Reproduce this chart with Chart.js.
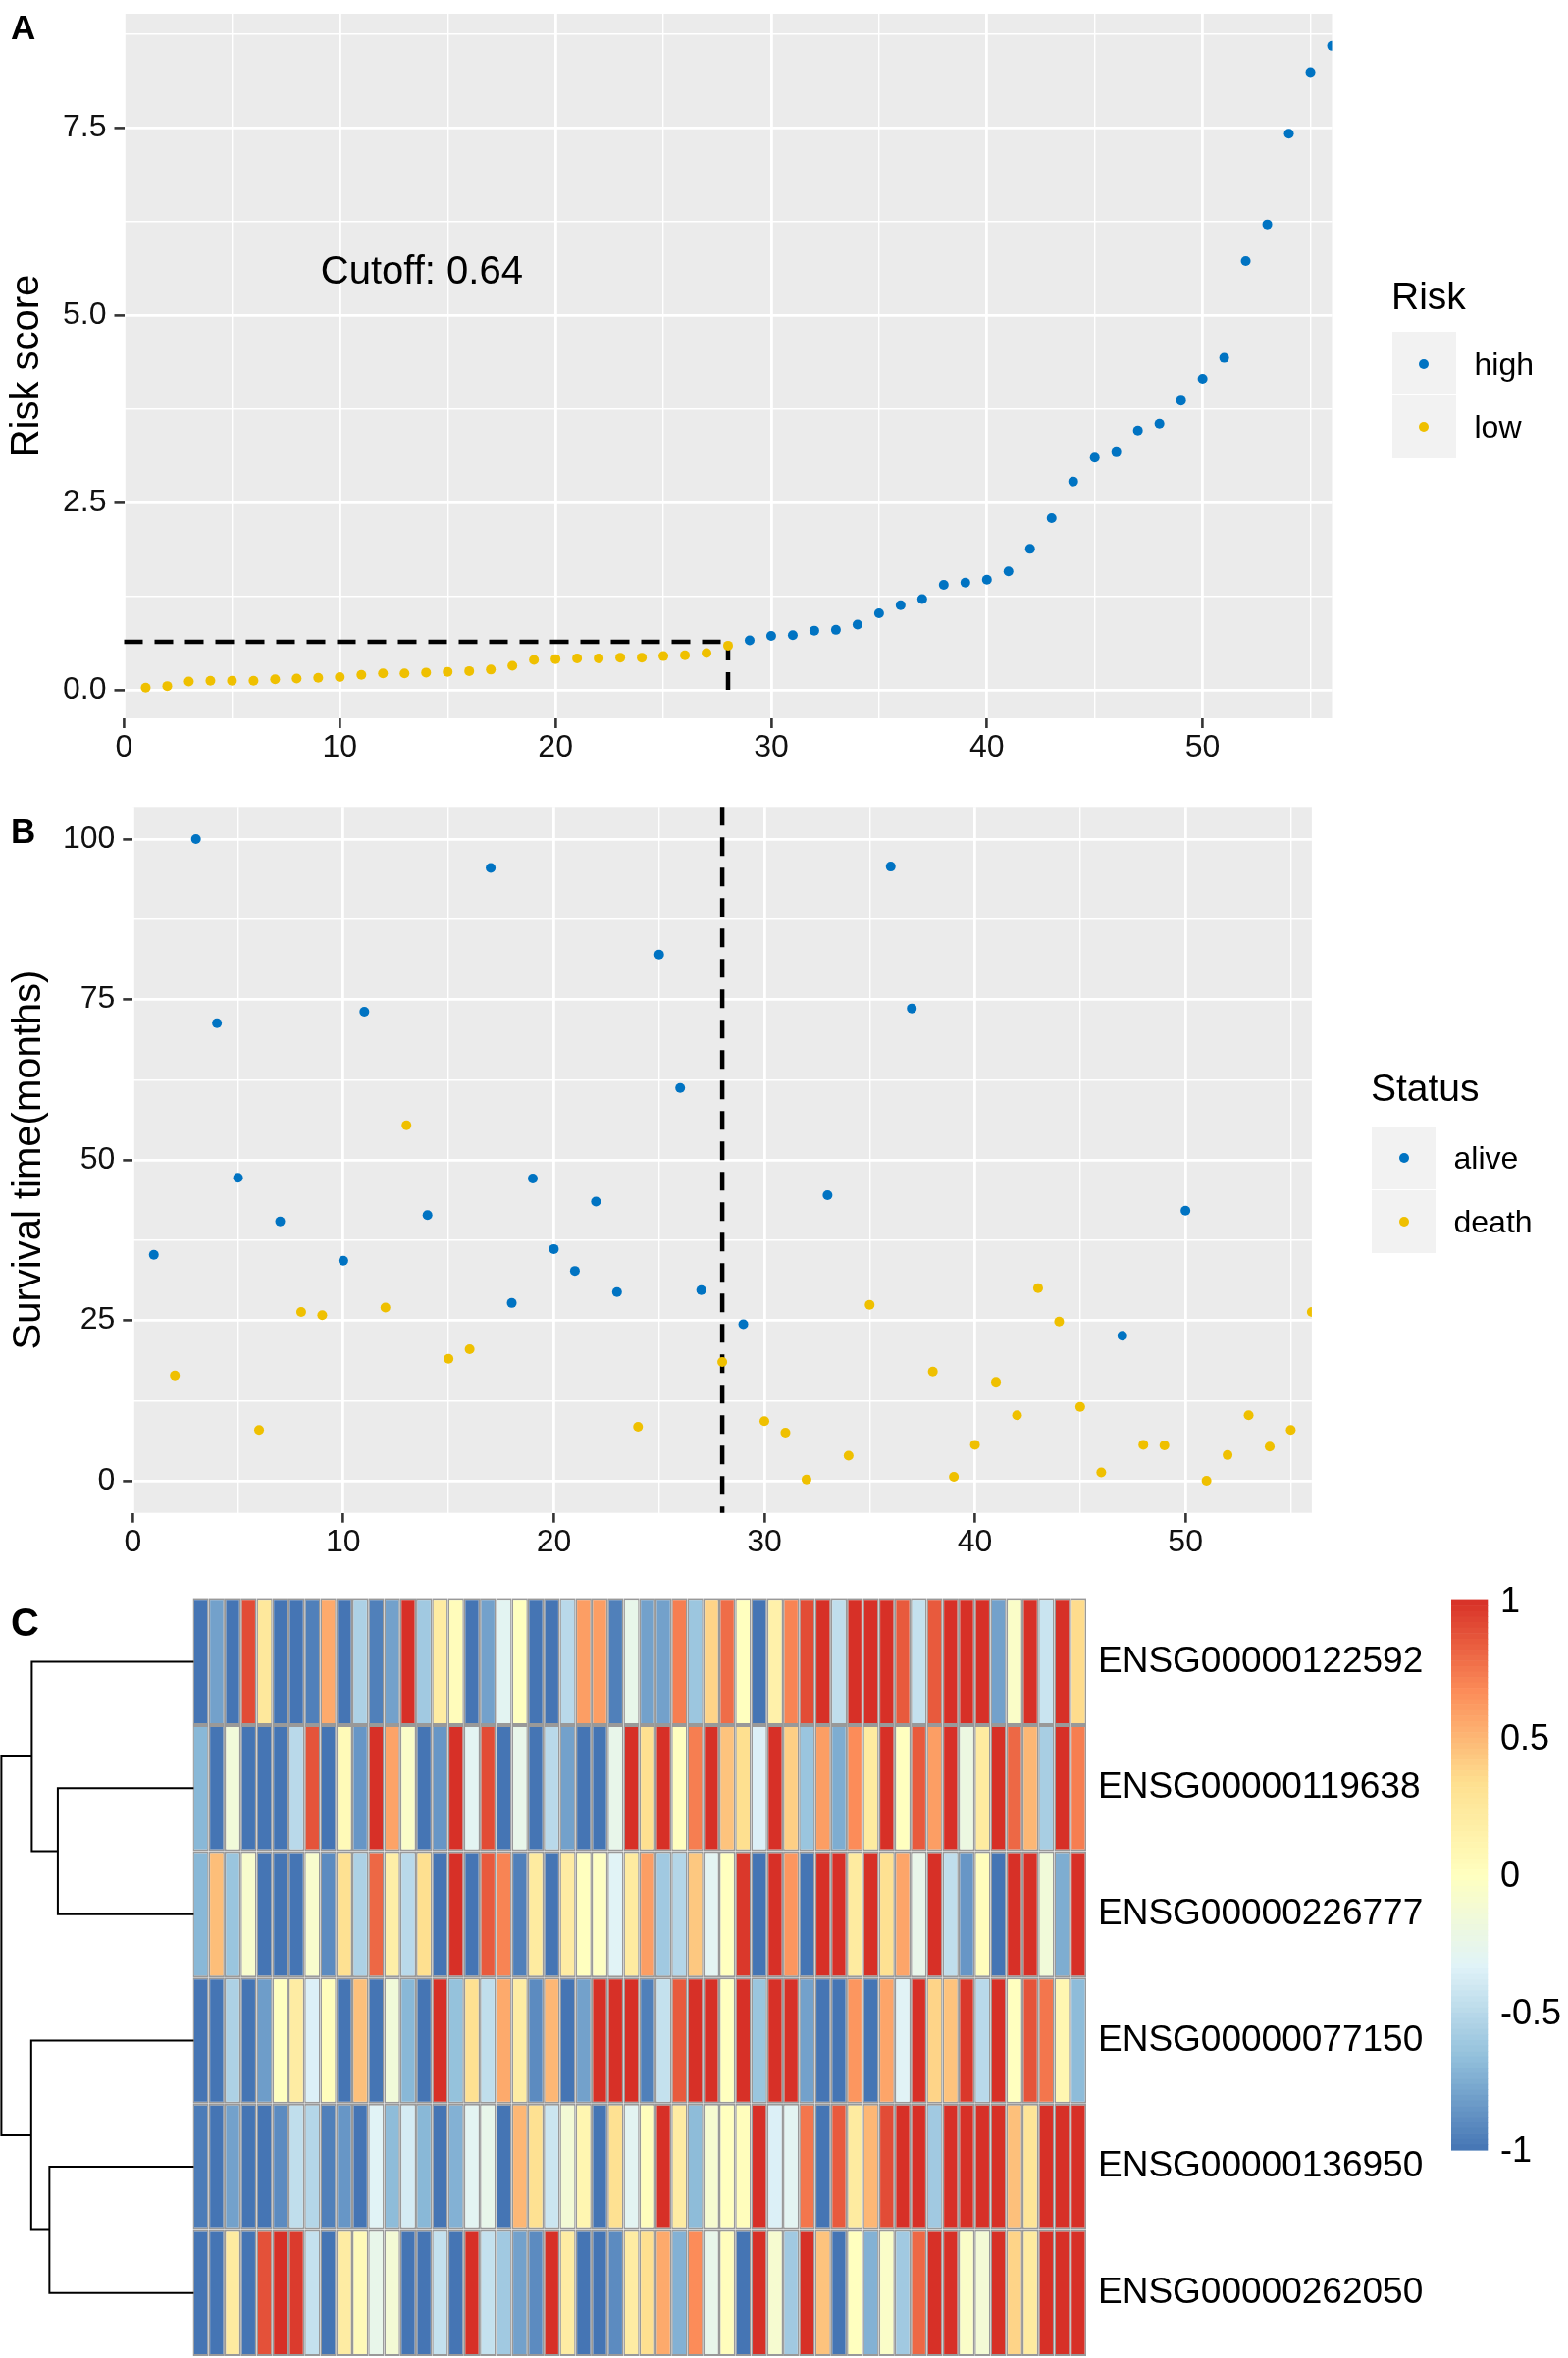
<!DOCTYPE html>
<html>
<head>
<meta charset="utf-8">
<title>Risk score, survival status and expression heatmap</title>
<script src="https://cdn.jsdelivr.net/npm/chart.js@4.4.1/dist/chart.umd.min.js"></script>
<style>
  html, body { margin: 0; padding: 0; background: #fff; }
  body { position: relative; width: 1598px; height: 2403px; overflow: hidden;
         font-family: "Liberation Sans", Arial, Helvetica, sans-serif; color: #000; }
  canvas { position: absolute; left: 0; }
  .txt { position: absolute; white-space: nowrap; }
  .keybox { position: absolute; background: #f2f2f2; }
  .dot { position: absolute; border-radius: 50%; width: 10px; height: 10px; }
</style>
</head>
<body>
<canvas id="riskChart" width="1598" height="790" style="top:0;width:1598px;height:790px"></canvas>
<canvas id="survChart" width="1598" height="790" style="top:800px;width:1598px;height:790px"></canvas>
<canvas id="heatChart" width="1598" height="803" style="top:1600px;width:1598px;height:803px"></canvas>

<div class="keybox" style="left:1419px;top:338px;width:65px;height:64px"></div>
<div class="keybox" style="left:1419px;top:403px;width:65px;height:64px"></div>
<div class="dot" style="left:1446px;top:366px;background:#0073C2"></div>
<div class="dot" style="left:1446px;top:430px;background:#EFC000"></div>

<div class="keybox" style="left:1398px;top:1148px;width:65px;height:64px"></div>
<div class="keybox" style="left:1398px;top:1213px;width:65px;height:64px"></div>
<div class="dot" style="left:1426px;top:1175px;background:#0073C2"></div>
<div class="dot" style="left:1426px;top:1240px;background:#EFC000"></div>

<script>
Chart.defaults.font.family = '"Liberation Sans", Arial, Helvetica, sans-serif';
Chart.defaults.color = '#111111';

// ---- data ----
const patientRank = [1, 2, 3, 4, 5, 6, 7, 8, 9, 10, 11, 12, 13, 14, 15, 16, 17, 18, 19, 20,
  21, 22, 23, 24, 25, 26, 27, 28, 29, 30, 31, 32, 33, 34, 35, 36, 37, 38, 39, 40,
  41, 42, 43, 44, 45, 46, 47, 48, 49, 50, 51, 52, 53, 54, 55, 56];

const riskScore = [0.03, 0.05, 0.11, 0.12, 0.12, 0.12, 0.14, 0.15, 0.16, 0.17,
  0.20, 0.22, 0.22, 0.23, 0.24, 0.25, 0.27, 0.32, 0.40, 0.41,
  0.42, 0.42, 0.43, 0.43, 0.45, 0.46, 0.49, 0.59, 0.66, 0.72,
  0.73, 0.79, 0.80, 0.87, 1.02, 1.13, 1.21, 1.40, 1.43, 1.47,
  1.58, 1.88, 2.29, 2.78, 3.10, 3.17, 3.46, 3.55, 3.86, 4.15,
  4.43, 5.72, 6.21, 7.42, 8.24, 8.59];
const riskCutoff = 0.64;

const survTime = [35.2, 16.4, 100, 71.3, 47.2, 7.9, 40.4, 26.3, 25.8, 34.3,
  73.1, 27.0, 55.4, 41.4, 19.0, 20.5, 95.5, 27.7, 47.1, 36.1,
  32.7, 43.5, 29.4, 8.4, 82.0, 61.2, 29.7, 18.5, 24.4, 9.3,
  7.5, 0.2, 44.5, 3.9, 27.4, 95.7, 73.6, 17.0, 0.6, 5.6,
  15.4, 10.2, 30.0, 24.8, 11.5, 1.3, 22.6, 5.6, 5.5, 42.1,
  0, 4.0, 10.2, 5.3, 7.9, 26.3];
const survStatus = ['alive', 'death', 'alive', 'alive', 'alive', 'death', 'alive', 'death', 'death', 'alive',
  'alive', 'death', 'death', 'alive', 'death', 'death', 'alive', 'alive', 'alive', 'alive',
  'alive', 'alive', 'alive', 'death', 'alive', 'alive', 'alive', 'death', 'alive', 'death',
  'death', 'death', 'alive', 'death', 'death', 'alive', 'alive', 'death', 'death', 'death',
  'death', 'death', 'death', 'death', 'death', 'death', 'alive', 'death', 'death', 'alive',
  'death', 'death', 'death', 'death', 'death', 'death'];

const rankTicks = [0, 10, 20, 30, 40, 50];
const riskTicks = [0, 2.5, 5, 7.5];
const survTicks = [0, 25, 50, 75, 100];

const geneIds = ['ENSG00000122592', 'ENSG00000119638', 'ENSG00000226777',
  'ENSG00000077150', 'ENSG00000136950', 'ENSG00000262050'];

// scaled expression, one array per gene (top to bottom), samples in risk order
const expr122592 = [-1, -0.8, -1, 0.9, 0.25, -1, -1, -0.95, 0.55, -1, -0.55, -0.95, -0.8, 1,
  -0.6, 0.2, 0.03, -1, -0.8, -0.3, 0, -1, -1, -0.5, 0.6, 0.6, -0.95, -0.25,
  -0.8, -0.8, 0.72, -0.62, 0.38, 0.78, 0, -1, 0.15, 0.7, 0.9, 1, -0.47, 1,
  1, 1, 0.85, -0.45, 0.85, 1, 1, 1, -0.8, -0.05, 1, -0.43, 1, 0.35];
const expr119638 = [-0.7, -1, -0.15, -1, -1, -1, -0.5, 0.87, -1, 0.05, -0.85, 1, 0.58, -0.05,
  -1, -0.85, 1, -0.3, 0.9, -1, -0.25, -1, -0.5, -0.8, -1, -1, -0.25, 1,
  0.33, 1, 0, 0.72, 1, 0.45, 0.33, -0.35, 1, 0.4, -0.63, 0.6, -0.75, 0.67,
  0.22, 1, 0, 0.85, 0.6, 1, -0.2, 0.22, 1, 0.8, 0.5, -0.57, 1, 0.72];
const expr226777 = [-0.7, 0.47, -0.63, -0.08, -1, -1, -1, -0.08, -0.9, 0.32, -0.55, 0.8, 0.17, -0.5,
  0.33, -1, 1, -1, 0.85, 0.7, -0.95, 0.22, -1, 0.2, 0, -0.02, -0.32, 0.22,
  0.6, -0.6, -0.52, 0.43, -0.3, 0, 0.97, -1, 1, 0.63, -1, 1, 1, 0.22,
  1, 0.32, 0.57, -0.25, 1, -0.47, -0.85, 0.02, -1, 1, 1, -0.15, -0.75, 1];
const expr077150 = [-1, -1, -0.55, -1, -0.82, 0, 0.2, -0.35, 0.02, -1, 0.46, -1, -0.15, -0.7,
  -1, 1, -0.65, 0.32, -0.47, 0.55, 0.2, -0.9, 0.5, -1, -0.8, 1, 1, 1,
  -0.95, -0.45, 0.85, 1, 1, 0, 1, -0.63, 1, 1, -0.8, -1, -1, 0.63,
  -1, 0.57, -0.32, 1, 0.38, 0.45, 0.97, -0.5, 1, 0, 0.87, 0.75, 0.1, -0.68];
const expr136950 = [-0.97, -1, -0.8, -1, -1, -0.9, -0.47, -0.52, -0.95, -0.85, -1, -0.32, -0.68, -0.38,
  -0.7, -1, -0.73, -0.3, -0.25, -1, 0.5, 0.32, -0.42, -0.13, 0.1, -1, 0.32, -0.3,
  0.02, 1, 0.2, -0.68, -0.1, 0, 0.02, 1, -0.35, -0.3, 0.75, -1, 0.85, 0.22,
  0.5, 0.9, 1, 1, -0.6, 1, 1, 1, 1, 0.46, 0.28, 1, 1, 1];
const expr262050 = [-1, -1, 0.22, -1, 0.88, 1, 0.96, -0.45, -1, 0.2, 0.05, -0.25, -0.13, -1,
  -1, -0.45, -1, 1, -0.45, -0.6, -0.8, -0.9, 1, 0.2, -1, -1, -0.9, 0.2,
  0.33, 0.55, -0.73, 0.67, -0.25, 0.02, -1, 1, -0.1, -0.6, 1, 0.45, -1, 0,
  -0.73, -0.05, -0.6, 0.8, 1, 1, -0.05, -0.13, 1, 0.38, 0.22, 1, 1, 1];
const heatRows = [expr122592, expr119638, expr226777, expr077150, expr136950, expr262050];

// row clustering: [node, node, height]; nodes 0-5 are genes, 6+ are merges in order
const dendroMerges = [[1, 2, 0.705], [0, 6, 0.841], [4, 5, 0.749], [3, 8, 0.844], [7, 9, 1.0]];
const colorBarTicks = [1, 0.5, 0, -0.5, -1];

// ---- helpers ----
const FONT = '"Liberation Sans", Arial, Helvetica, sans-serif';
const BLUE = '#0073C2';
const YELLOW = '#EFC000';
const palette = ['#4575B4', '#91BFDB', '#E0F3F8', '#FFFFBF', '#FEE090', '#FC8D59', '#D73027'];

function hexRgb(h) {
  return [parseInt(h.slice(1, 3), 16), parseInt(h.slice(3, 5), 16), parseInt(h.slice(5, 7), 16)];
}
function heatColor(v) {
  const t = (Math.max(-1, Math.min(1, v)) + 1) / 2 * (palette.length - 1);
  const i = Math.min(Math.floor(t), palette.length - 2);
  const f = t - i;
  const a = hexRgb(palette[i]), b = hexRgb(palette[i + 1]);
  const c = a.map((x, k) => Math.round(x + (b[k] - x) * f));
  return `rgb(${c[0]},${c[1]},${c[2]})`;
}

// major breaks plus the ggplot minor breaks halfway between them
function withMinor(major, lo, hi) {
  const half = (major[1] - major[0]) / 2;
  const out = [];
  for (let v = major[0] - half; v <= hi + 1e-9; v += half) {
    if (v >= lo - 1e-9) out.push(+v.toFixed(4));
  }
  return out;
}

function ggGrid(major) {
  const isMajor = c => c.tick && major.includes(c.tick.value);
  return {
    color: '#ffffff',
    lineWidth: c => isMajor(c) ? 2.8 : 1.4,
    tickColor: c => isMajor(c) ? '#333333' : 'rgba(0,0,0,0)',
    tickWidth: 2.6,
    tickLength: 10,
    drawTicks: true
  };
}

// fixed axis box sizes, no extra room for edge labels
function fixWidth(w) {
  return s => { s.width = w; s.paddingTop = 0; s.paddingBottom = 0; };
}
function fixHeight(h) {
  return s => { s.height = h; s.paddingLeft = 0; s.paddingRight = 0; };
}

const panelBg = {
  id: 'panelBg',
  beforeDraw(chart) {
    const { ctx, chartArea: a } = chart;
    ctx.save();
    ctx.fillStyle = '#EBEBEB';
    ctx.fillRect(a.left, a.top, a.right - a.left, a.bottom - a.top);
    ctx.restore();
  }
};

function addText(str, left, centerY, size, bold) {
  const d = document.createElement('div');
  d.className = 'txt';
  d.textContent = str;
  d.style.left = left + 'px';
  d.style.top = (centerY - 0.4885 * size) + 'px';
  d.style.fontSize = size + 'px';
  d.style.lineHeight = size + 'px';
  if (bold) d.style.fontWeight = 'bold';
  document.body.appendChild(d);
}

// ---- A: risk score ----
const riskPts = patientRank.map((r, i) => ({ x: r, y: riskScore[i] }));
const lowCount = riskScore.filter(v => v <= riskCutoff).length;

const cutoffLines = {
  id: 'cutoffLines',
  beforeDatasetsDraw(chart) {
    const { ctx, scales: { x, y } } = chart;
    ctx.save();
    ctx.strokeStyle = '#000';
    ctx.lineWidth = 4.5;
    ctx.setLineDash([19, 12]);
    ctx.beginPath();
    ctx.moveTo(x.getPixelForValue(0), y.getPixelForValue(riskCutoff));
    ctx.lineTo(x.getPixelForValue(lowCount), y.getPixelForValue(riskCutoff));
    ctx.stroke();
    ctx.beginPath();
    ctx.moveTo(x.getPixelForValue(lowCount), y.getPixelForValue(riskCutoff));
    ctx.lineTo(x.getPixelForValue(lowCount), y.getPixelForValue(0));
    ctx.stroke();
    ctx.setLineDash([]);
    ctx.fillStyle = '#000';
    ctx.font = '40px ' + FONT;
    ctx.textAlign = 'center';
    ctx.textBaseline = 'middle';
    ctx.fillText('Cutoff: ' + riskCutoff.toFixed(2), x.getPixelForValue(13.8), y.getPixelForValue(5.57));
    ctx.restore();
  }
};

new Chart(document.getElementById('riskChart'), {
  type: 'scatter',
  data: {
    datasets: [
      { label: 'low', data: riskPts.filter(p => p.y <= riskCutoff), backgroundColor: YELLOW,
        pointRadius: 5, pointBorderWidth: 0, clip: 0 },
      { label: 'high', data: riskPts.filter(p => p.y > riskCutoff), backgroundColor: BLUE,
        pointRadius: 5, pointBorderWidth: 0, clip: 0 }
    ]
  },
  options: {
    responsive: false, animation: false, devicePixelRatio: 1, events: [],
    layout: { padding: { left: 0, top: 14, right: 240.5, bottom: 0 } },
    plugins: { legend: { display: false }, tooltip: { enabled: false } },
    scales: {
      x: {
        type: 'linear', min: 0, max: 56, bounds: 'data',
        afterBuildTicks: s => { s.ticks = withMinor(rankTicks, 0, 56).map(v => ({ value: v })); },
        afterFit: fixHeight(58),
        ticks: { autoSkip: false, maxRotation: 0, padding: 1, font: { size: 32 },
          callback: v => rankTicks.includes(v) ? String(v) : '' },
        grid: ggGrid(rankTicks),
        border: { display: false }
      },
      y: {
        type: 'linear', min: -0.38, max: 9.02, bounds: 'data',
        afterBuildTicks: s => { s.ticks = withMinor(riskTicks, -0.38, 9.02).map(v => ({ value: v })); },
        afterFit: fixWidth(126.5),
        ticks: { autoSkip: false, padding: 8, font: { size: 32 },
          callback: v => riskTicks.includes(v) ? v.toFixed(1) : '' },
        grid: ggGrid(riskTicks),
        border: { display: false },
        title: { display: true, text: 'Risk score', color: '#000', font: { size: 40 }, padding: { top: 4, bottom: 0 } }
      }
    }
  },
  plugins: [panelBg, cutoffLines]
});

// ---- B: survival ----
const survPts = patientRank.map((r, i) => ({ x: r, y: survTime[i], s: survStatus[i] }));

const cutoffVLine = {
  id: 'cutoffVLine',
  beforeDatasetsDraw(chart) {
    const { ctx, chartArea: a, scales: { x } } = chart;
    ctx.save();
    ctx.strokeStyle = '#000';
    ctx.lineWidth = 4.5;
    ctx.setLineDash([19, 12]);
    ctx.beginPath();
    ctx.moveTo(x.getPixelForValue(lowCount), a.top);
    ctx.lineTo(x.getPixelForValue(lowCount), a.bottom);
    ctx.stroke();
    ctx.restore();
  }
};

new Chart(document.getElementById('survChart'), {
  type: 'scatter',
  data: {
    datasets: [
      { label: 'alive', data: survPts.filter(p => p.s === 'alive'), backgroundColor: BLUE,
        pointRadius: 5, pointBorderWidth: 0, clip: 0 },
      { label: 'death', data: survPts.filter(p => p.s === 'death'), backgroundColor: YELLOW,
        pointRadius: 5, pointBorderWidth: 0, clip: 0 }
    ]
  },
  options: {
    responsive: false, animation: false, devicePixelRatio: 1, events: [],
    layout: { padding: { left: 0, top: 22.3, right: 261.1, bottom: 0 } },
    plugins: { legend: { display: false }, tooltip: { enabled: false } },
    scales: {
      x: {
        type: 'linear', min: 0, max: 56, bounds: 'data',
        afterBuildTicks: s => { s.ticks = withMinor(rankTicks, 0, 56).map(v => ({ value: v })); },
        afterFit: fixHeight(48.3),
        ticks: { autoSkip: false, maxRotation: 0, padding: 1, font: { size: 32 },
          callback: v => rankTicks.includes(v) ? String(v) : '' },
        grid: ggGrid(rankTicks),
        border: { display: false }
      },
      y: {
        type: 'linear', min: -5, max: 105, bounds: 'data',
        afterBuildTicks: s => { s.ticks = withMinor(survTicks, -5, 105).map(v => ({ value: v })); },
        afterFit: fixWidth(135.3),
        ticks: { autoSkip: false, padding: 8, font: { size: 32 },
          callback: v => survTicks.includes(v) ? String(v) : '' },
        grid: ggGrid(survTicks),
        border: { display: false },
        title: { display: true, text: 'Survival time(months)', color: '#000', font: { size: 40 }, padding: { top: 6, bottom: 0 } }
      }
    }
  },
  plugins: [panelBg, cutoffVLine]
});

// ---- C: heatmap ----
const heatExtras = {
  id: 'heatExtras',
  afterDraw(chart) {
    const { ctx, chartArea: a, scales: { y } } = chart;
    ctx.save();
    // dendrogram
    const nodes = geneIds.map((g, i) => ({ x: a.left, y: y.getPixelForValue(geneIds.length - 0.5 - i) }));
    const span = a.left - 1.4;
    ctx.strokeStyle = '#000';
    ctx.lineWidth = 2;
    ctx.lineCap = 'square';
    ctx.beginPath();
    dendroMerges.forEach(([p, q, h]) => {
      const hx = a.left - h * span;
      const n1 = nodes[p], n2 = nodes[q];
      ctx.moveTo(n1.x, n1.y); ctx.lineTo(hx, n1.y);
      ctx.lineTo(hx, n2.y); ctx.lineTo(n2.x, n2.y);
      nodes.push({ x: hx, y: (n1.y + n2.y) / 2 });
    });
    ctx.stroke();
    // colour key
    const kx = 1479, kw = 37.3, top = 30.6, bottom = 591;
    const steps = 100;
    for (let k = 0; k < steps; k++) {
      const v = 1 - (k + 0.5) / steps * 2;
      const y0 = top + (bottom - top) * k / steps;
      ctx.fillStyle = heatColor(v);
      ctx.fillRect(kx, y0, kw, (bottom - top) / steps + 0.6);
    }
    ctx.restore();
  }
};

new Chart(document.getElementById('heatChart'), {
  type: 'bar',
  data: {
    labels: patientRank.map(String),
    datasets: heatRows.slice().reverse().map((row, i) => ({
      label: geneIds[geneIds.length - 1 - i],
      data: row.map(() => 1),
      backgroundColor: row.map(heatColor),
      borderColor: '#999999',
      borderWidth: { left: 1.5, right: 1.5, top: 2, bottom: 2 },
      borderSkipped: false,
      inflateAmount: 0,
      barPercentage: 1,
      categoryPercentage: 1,
      stack: 'heat'
    }))
  },
  options: {
    responsive: false, animation: false, devicePixelRatio: 1, events: [],
    layout: { padding: { left: 196.4, top: 29.3, right: 0, bottom: 2 } },
    plugins: { legend: { display: false }, tooltip: { enabled: false } },
    scales: {
      x: { stacked: true, display: false },
      y: {
        type: 'linear', stacked: true, min: 0, max: 6, position: 'right', bounds: 'data',
        afterBuildTicks: s => { s.ticks = geneIds.map((g, i) => ({ value: i + 0.5 })); },
        afterFit: fixWidth(491),
        ticks: { autoSkip: false, padding: 12, color: '#000', font: { size: 37 },
          callback: v => geneIds[Math.round(geneIds.length - 0.5 - v)] },
        grid: { display: false, drawTicks: false },
        border: { display: false }
      }
    }
  },
  plugins: [heatExtras]
});

// ---- labels and legends ----
addText('A', 11, 27.5, 35, true);
addText('B', 11, 846, 35, true);
addText('C', 11, 1653, 40, true);

addText('Risk', 1418, 301, 39, false);
addText('high', 1502.5, 370.6, 32, false);
addText('low', 1502.5, 435, 32, false);

addText('Status', 1397, 1108, 39, false);
addText('alive', 1481.5, 1180, 32, false);
addText('death', 1481.5, 1245, 32, false);

colorBarTicks.forEach(v => {
  addText(String(v), 1529, 1630.6 + (1 - v) / 2 * 560.4, 36, false);
});
</script>
</body>
</html>
